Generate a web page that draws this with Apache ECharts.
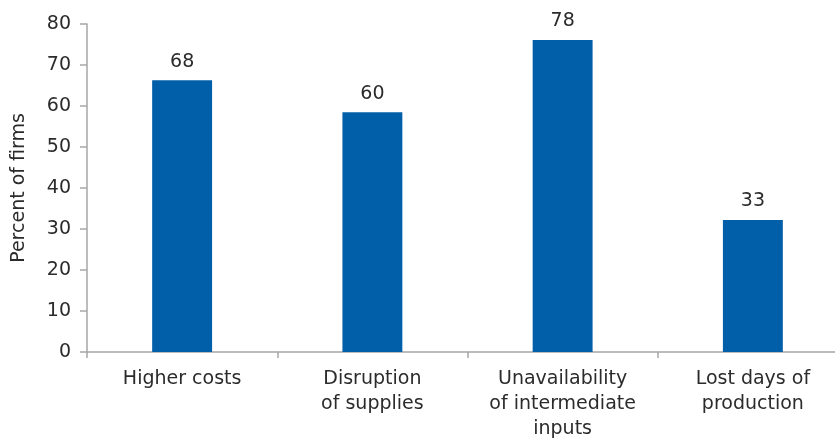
<!DOCTYPE html>
<html><head><meta charset="utf-8">
<script src="https://cdn.jsdelivr.net/npm/echarts@6/dist/echarts.min.js"></script>
<style>html,body{margin:0;padding:0;background:#fff;overflow:hidden;width:835px;height:438px}#c{width:848px;height:438px}</style>
</head><body><div id="c"></div>
<script>
const categories = ["Higher costs", "Disruption\nof supplies", "Unavailability\nof intermediate\ninputs", "Lost days of\nproduction"];
const barValues = [66.3, 58.5, 76.1, 32.2];
const labelTexts = ["68", "60", "78", "33"];
const yTicks = [0, 10, 20, 30, 40, 50, 60, 70, 80];

const FONT = "DejaVu Sans";
const TXT = '#2b2b2b';
const chart = echarts.init(document.getElementById('c'), null, {renderer: 'canvas'});
chart.setOption({
  animation: false,
  textStyle: {fontFamily: FONT},
  grid: {left: 87, right: 0, top: 24, bottom: 86, containLabel: false, outerBoundsMode: 'none'},
  xAxis: {
    type: 'category',
    data: categories,
    axisLine: {lineStyle: {color: '#a6a6a6', width: 1.5}},
    axisTick: {show: true, length: 6, lineStyle: {color: '#a6a6a6', width: 1.5}},
    axisLabel: {color: TXT, fontSize: 19, fontFamily: FONT, lineHeight: 25, margin: 15, interval: 0}
  },
  yAxis: {
    type: 'value',
    min: yTicks[0], max: yTicks[yTicks.length - 1], interval: 10,
    name: 'Percent of firms',
    nameLocation: 'middle',
    nameGap: 58,
    nameTextStyle: {color: TXT, fontSize: 19, fontFamily: FONT},
    axisLine: {show: true, lineStyle: {color: '#a6a6a6', width: 1.5}},
    axisTick: {show: true, length: 7, lineStyle: {color: '#a6a6a6', width: 1.5}},
    splitLine: {show: false},
    axisLabel: {color: TXT, fontSize: 19, fontFamily: FONT, margin: 16}
  },
  series: [{
    type: 'bar',
    data: barValues,
    barWidth: '31.5%',
    itemStyle: {color: '#005fa8'},
    label: {
      show: true, position: 'top', distance: 9,
      color: TXT, fontSize: 19, fontFamily: FONT,
      formatter: p => labelTexts[p.dataIndex]
    }
  }]
});
</script></body></html>
